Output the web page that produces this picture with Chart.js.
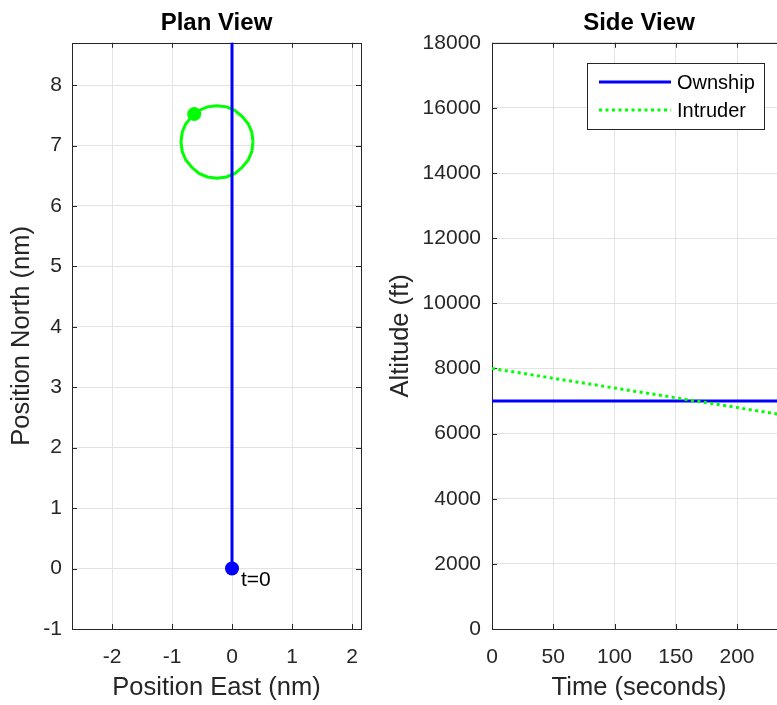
<!DOCTYPE html>
<html>
<head>
<meta charset="utf-8">
<script src="https://cdn.jsdelivr.net/npm/chart.js@4.4.1/dist/chart.umd.min.js"></script>
<style>
    html, body { margin: 0; padding: 0; width: 777px; height: 705px; overflow: hidden; background: #fff; }
    canvas { position: absolute; top: 0; }
    #plan-chart { left: 0; }
    #side-chart { left: 380px; }
</style>
</head>
<body>
<canvas id="plan-chart" width="380" height="705"></canvas>
<canvas id="side-chart" width="420" height="705"></canvas>
<script>
// Plan view data (nm)
var ownshipEast = [0, 0];
var ownshipNorth = [0, 10];
var intruderEast = [0.35, 0.33, 0.27, 0.17, 0.05, -0.09, -0.25, -0.41, -0.55, -0.67, -0.77, -0.83, -0.85,
                    -0.83, -0.77, -0.67, -0.55, -0.41, -0.25, -0.09, 0.05, 0.17, 0.27, 0.33, 0.35];
var intruderNorth = [7.06, 7.22, 7.36, 7.48, 7.58, 7.64, 7.66, 7.64, 7.58, 7.48, 7.36, 7.22, 7.06,
                     6.90, 6.76, 6.64, 6.54, 6.48, 6.46, 6.48, 6.54, 6.64, 6.76, 6.90, 7.06];
var ownshipStart = [0, 0];
var intruderMarker = [-0.63, 7.52];
var startLabel = 't=0';
var startLabelPos = [0.15, -0.19];

// Side view data
var timeSec = [0, 60, 120, 180, 240];
var ownshipAlt = [7000, 7000, 7000, 7000, 7000];
var intruderAlt = [8000, 7640, 7280, 6920, 6560];

var textColor = '#262626';
var gridColor = '#e3e3e3';
var fontFamily = '"Liberation Sans", Arial, Helvetica, sans-serif';

Chart.defaults.font.family = fontFamily;
Chart.defaults.color = textColor;

function toPoints(xs, ys) {
    return xs.map(function(x, i) { return { x: x, y: ys[i] }; });
}

// Plain tick labels, no thousands separators
function plainTick(value) {
    return String(value);
}

// Draws the axes box and the inward tick marks (MATLAB style)
var axesBox = {
    id: 'axesBox',
    beforeDatasetsDraw: function(chart) {
        var ctx = chart.ctx, a = chart.chartArea;
        var xs = chart.scales.x, ys = chart.scales.y;
        ctx.save();
        ctx.strokeStyle = textColor;
        ctx.lineWidth = 1;
        ctx.beginPath();
        xs.ticks.forEach(function(t) {
            var px = Math.round(xs.getPixelForValue(t.value)) + 0.5;
            ctx.moveTo(px, a.bottom); ctx.lineTo(px, a.bottom - 5);
            ctx.moveTo(px, a.top); ctx.lineTo(px, a.top + 5);
        });
        ys.ticks.forEach(function(t) {
            var py = Math.round(ys.getPixelForValue(t.value)) + 0.5;
            ctx.moveTo(a.left, py); ctx.lineTo(a.left + 5, py);
            ctx.moveTo(a.right, py); ctx.lineTo(a.right - 5, py);
        });
        ctx.stroke();
        ctx.strokeRect(Math.round(a.left) + 0.5, Math.round(a.top) + 0.5,
                       Math.round(a.right - a.left), Math.round(a.bottom - a.top));
        ctx.restore();
    }
};

// "t=0" text next to the ownship start point
var startText = {
    id: 'startText',
    afterDatasetsDraw: function(chart) {
        var ctx = chart.ctx;
        ctx.save();
        ctx.fillStyle = '#000';
        ctx.font = '21px ' + fontFamily;
        ctx.textAlign = 'left';
        ctx.textBaseline = 'middle';
        ctx.fillText(startLabel, chart.scales.x.getPixelForValue(startLabelPos[0]),
                     chart.scales.y.getPixelForValue(startLabelPos[1]));
        ctx.restore();
    }
};

// Boxed legend inside the side view axes
var boxLegend = {
    id: 'boxLegend',
    afterDraw: function(chart) {
        var ctx = chart.ctx, a = chart.chartArea;
        var x0 = Math.round(a.left) + 95, y0 = Math.round(a.top) + 20, w = 177, h = 66;
        ctx.save();
        ctx.fillStyle = '#fff';
        ctx.fillRect(x0, y0, w, h);
        ctx.strokeStyle = textColor;
        ctx.lineWidth = 1;
        ctx.strokeRect(x0 + 0.5, y0 + 0.5, w, h);
        chart.data.datasets.forEach(function(ds, i) {
            var y = y0 + 19 + i * 28;
            ctx.strokeStyle = ds.borderColor;
            ctx.lineWidth = ds.borderWidth;
            ctx.setLineDash(ds.borderDash || []);
            ctx.beginPath();
            ctx.moveTo(x0 + 12, y);
            ctx.lineTo(x0 + 84, y);
            ctx.stroke();
            ctx.setLineDash([]);
            ctx.fillStyle = '#000';
            ctx.font = '20px ' + fontFamily;
            ctx.textBaseline = 'middle';
            ctx.fillText(ds.label, x0 + 90, y + 1);
        });
        ctx.restore();
    }
};

function axisTitle(text, pad) {
    return { display: true, text: text, color: textColor, font: { size: 25.5 }, padding: pad };
}

// Plan view
var planChart = new Chart(document.getElementById('plan-chart').getContext('2d'), {
    type: 'scatter',
    data: {
        datasets: [
            { data: toPoints([ownshipStart[0]], [ownshipStart[1]]), pointRadius: 7, backgroundColor: '#0000ff', borderWidth: 0, order: 0 },
            { data: toPoints([intruderMarker[0]], [intruderMarker[1]]), pointRadius: 7, backgroundColor: '#00ff00', borderWidth: 0, order: 1 },
            { data: toPoints(ownshipEast, ownshipNorth), showLine: true, pointRadius: 0, borderColor: '#0000ff', borderWidth: 3, order: 2 },
            { data: toPoints(intruderEast, intruderNorth), showLine: true, pointRadius: 0, borderColor: '#00ff00', borderWidth: 3, order: 3 }
        ]
    },
    options: {
        responsive: false,
        animation: false,
        devicePixelRatio: 1,
        layout: { padding: { right: 19 } },
        scales: {
            x: {
                type: 'linear', min: -2.667, max: 2.15,
                ticks: { stepSize: 1, includeBounds: false, padding: 16, maxRotation: 0, font: { size: 21 }, callback: plainTick },
                grid: { color: gridColor, drawTicks: false },
                border: { display: false },
                title: axisTitle('Position East (nm)', { top: 0, bottom: 2 }),
                afterFit: function(s) { s.height = 76; }
            },
            y: {
                type: 'linear', min: -1, max: 8.7,
                ticks: { stepSize: 1, includeBounds: false, padding: 10, font: { size: 21 }, callback: plainTick },
                grid: { color: gridColor, drawTicks: false },
                border: { display: false },
                title: axisTitle('Position North (nm)', { top: 7, bottom: 0 }),
                afterFit: function(s) { s.width = 72; }
            }
        },
        plugins: {
            legend: { display: false },
            tooltip: { enabled: false },
            title: {
                display: true, text: 'Plan View', color: '#000', fullSize: false,
                font: { size: 24, weight: 'bold' }, padding: { top: 9, bottom: 5 }
            }
        }
    },
    plugins: [axesBox, startText]
});

// Side view
var sideChart = new Chart(document.getElementById('side-chart').getContext('2d'), {
    type: 'line',
    data: {
        datasets: [
            { label: 'Ownship', data: toPoints(timeSec, ownshipAlt), borderColor: '#0000ff', borderWidth: 3, pointRadius: 0, order: 1 },
            { label: 'Intruder', data: toPoints(timeSec, intruderAlt), borderColor: '#00ff00', borderWidth: 3, borderDash: [3, 3.5], pointRadius: 0, order: 0 }
        ]
    },
    options: {
        responsive: false,
        animation: false,
        devicePixelRatio: 1,
        layout: { padding: { right: 14 } },
        scales: {
            x: {
                type: 'linear', min: 0, max: 240,
                ticks: { stepSize: 50, includeBounds: false, padding: 16, maxRotation: 0, font: { size: 21 }, callback: plainTick },
                grid: { color: gridColor, drawTicks: false },
                border: { display: false },
                title: axisTitle('Time (seconds)', { top: 0, bottom: 2 }),
                afterFit: function(s) { s.height = 76; }
            },
            y: {
                type: 'linear', min: 0, max: 18000,
                ticks: { stepSize: 2000, padding: 11, font: { size: 21 }, callback: plainTick },
                grid: { color: gridColor, drawTicks: false },
                border: { display: false },
                title: axisTitle('Altitude (ft)', { top: 6, bottom: 0 }),
                afterFit: function(s) { s.width = 112; }
            }
        },
        plugins: {
            legend: { display: false },
            tooltip: { enabled: false },
            title: {
                display: true, text: 'Side View', color: '#000', fullSize: false,
                font: { size: 24, weight: 'bold' }, padding: { top: 9, bottom: 5 }
            }
        }
    },
    plugins: [axesBox, boxLegend]
});
</script>
</body>
</html>
